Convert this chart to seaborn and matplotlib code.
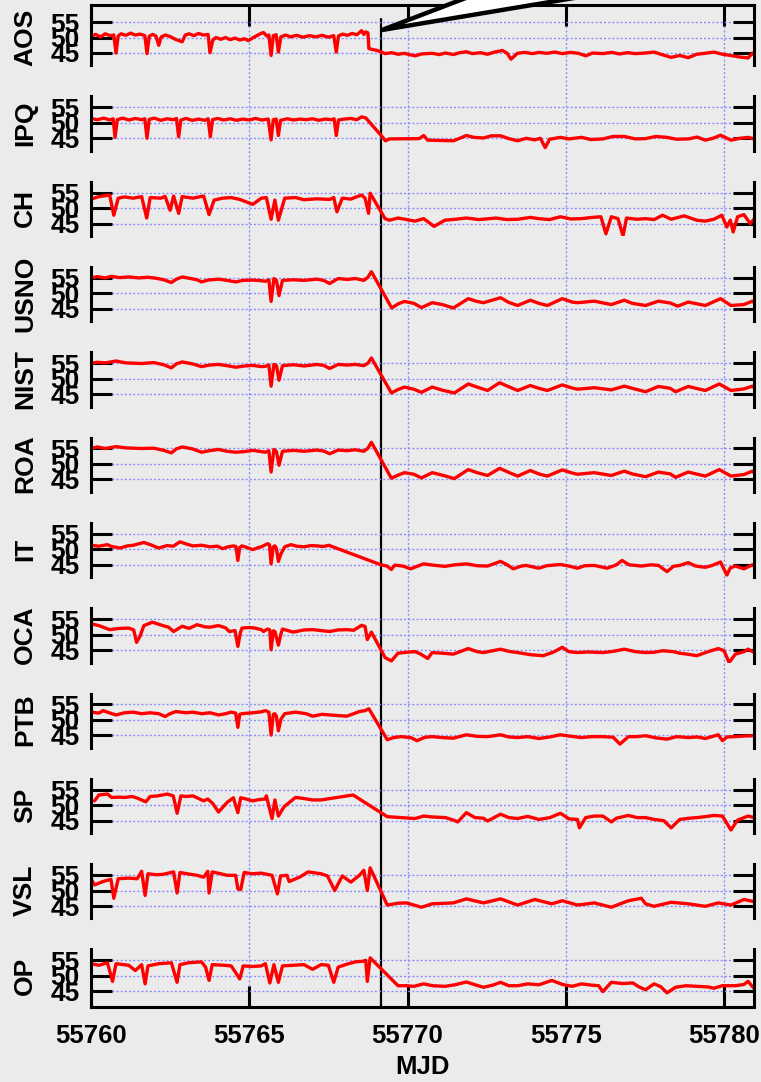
import numpy as np
import pandas as pd
import seaborn as sns
import matplotlib.pyplot as plt
from matplotlib.patches import Polygon

# times are days after MJD 55760
MJD0 = 55760
step_mjd = 55769.16

stations = ['AOS', 'IPQ', 'CH', 'USNO', 'NIST', 'ROA', 'IT', 'OCA', 'PTB', 'SP', 'VSL', 'OP']
tick_mjd = [55760, 55765, 55770, 55775, 55780]
y_ticks = [45, 50, 55]

t_aos = [0.0, 0.15, 0.3, 0.45, 0.6, 0.72, 0.79, 0.86, 0.95, 1.1, 1.25, 1.4, 1.55, 1.7, 1.77, 1.84, 1.95, 2.05, 2.14, 2.22,
         2.35, 2.5, 2.65, 2.88, 2.98, 3.1, 3.25, 3.4, 3.55, 3.7, 3.76, 3.85, 3.95, 4.1, 4.25, 4.4, 4.55, 4.7, 4.85, 4.97,
         5.1, 5.24, 5.35, 5.45, 5.55, 5.62, 5.69, 5.76, 5.85, 5.92, 6.0, 6.15, 6.3, 6.5, 6.7, 6.9, 7.1, 7.3, 7.5, 7.67,
         7.75, 7.82, 7.95, 8.1, 8.25, 8.4, 8.55, 8.62, 8.68, 8.75, 8.78, 9.05, 9.29, 9.5, 9.7, 9.9, 10.1, 10.24, 10.45, 10.78,
         11.0, 11.2, 11.45, 11.65, 11.86, 12.05, 12.3, 12.53, 12.75, 13.0, 13.15, 13.27, 13.47, 13.7, 13.95, 14.15, 14.4, 14.65, 14.9, 15.15,
         15.4, 15.63, 15.85, 16.17, 16.45, 16.7, 16.95, 17.2, 17.52, 17.79, 18.0, 18.33, 18.6, 18.87, 19.14, 19.4, 19.68, 19.95, 20.22, 20.5,
         20.76, 20.9, 20.95]
v_aos = [50.4, 51.0, 50.2, 51.2, 50.6, 50.8, 45.0, 50.5, 51.2, 50.7, 51.4, 50.8, 51.1, 50.6, 44.8, 50.4, 51.0, 50.5, 47.5, 50.2,
         50.8, 50.3, 49.5, 48.6, 50.8, 51.2, 50.6, 51.3, 50.8, 51.0, 45.1, 49.2, 50.0, 49.4, 50.0, 49.3, 49.8, 49.2, 49.6, 49.0,
         49.8, 50.6, 51.2, 51.6, 50.5, 50.8, 44.2, 50.6, 50.9, 45.3, 50.2, 50.8, 50.2, 50.7, 50.1, 50.6, 50.2, 50.7, 50.1, 50.6,
         45.3, 50.5, 51.1, 50.7, 51.3, 50.9, 52.2, 51.0, 51.8, 51.5, 46.4, 45.8, 44.8, 45.1, 44.6, 44.9, 44.4, 44.1, 44.7, 44.9,
         44.5, 45.0, 44.5, 45.1, 45.4, 44.8, 45.1, 44.6, 45.3, 45.8, 44.9, 43.0, 44.9, 45.2, 44.8, 45.2, 44.9, 45.3, 44.8, 45.2,
         44.9, 44.1, 45.0, 44.8, 45.2, 44.7, 45.1, 44.8, 45.0, 45.3, 44.6, 43.6, 44.2, 43.5, 44.6, 44.9, 45.3, 44.6, 44.2, 43.7,
         43.4, 45.0, 44.5]

t_ipq = [0.0, 0.2, 0.4, 0.6, 0.7, 0.76, 0.83, 1.0, 1.2, 1.4, 1.6, 1.7, 1.77, 1.84, 2.0, 2.2, 2.4, 2.6, 2.7, 2.77,
         2.84, 3.0, 3.2, 3.4, 3.6, 3.7, 3.77, 3.84, 4.0, 4.2, 4.4, 4.6, 4.8, 5.0, 5.2, 5.4, 5.6, 5.69, 5.76, 5.85,
         5.92, 5.99, 6.2, 6.4, 6.6, 6.8, 7.0, 7.2, 7.4, 7.6, 7.68, 7.75, 7.82, 8.0, 8.2, 8.4, 8.55, 8.68, 9.22, 9.3,
         9.43, 10.37, 10.51, 10.64, 11.45, 11.65, 11.86, 12.1, 12.4, 12.65, 12.94, 13.2, 13.48, 13.75, 14.02, 14.2, 14.35, 14.49, 14.83, 15.1,
         15.5, 15.8, 16.17, 16.5, 16.85, 17.2, 17.52, 17.85, 18.2, 18.5, 18.87, 19.15, 19.41, 19.65, 19.89, 20.22, 20.5, 20.76, 20.95]
v_ipq = [51.4, 51.0, 51.5, 50.9, 51.3, 45.3, 51.0, 51.5, 50.9, 51.4, 51.0, 51.3, 45.0, 51.1, 51.5, 50.8, 51.3, 51.0, 51.4, 45.5,
         50.9, 51.4, 50.8, 51.2, 50.8, 51.3, 45.5, 51.0, 51.4, 50.9, 51.3, 50.8, 51.2, 50.9, 51.4, 50.9, 51.2, 44.5, 51.0, 51.2,
         45.9, 50.8, 51.3, 50.9, 51.2, 51.0, 51.3, 50.8, 51.2, 51.0, 51.3, 45.9, 50.9, 51.2, 51.4, 51.0, 51.9, 51.6, 45.3, 44.2,
         44.8, 44.9, 45.9, 44.4, 44.2, 45.0, 45.9, 45.3, 45.1, 45.8, 45.8, 44.9, 44.2, 45.0, 44.5, 45.0, 42.0, 44.7, 45.3, 44.8,
         45.3, 44.6, 44.8, 45.6, 45.6, 44.8, 44.9, 45.6, 45.3, 44.7, 44.8, 45.4, 44.4, 45.0, 46.0, 44.4, 45.0, 45.3, 44.8]

t_ch = [0.0, 0.25, 0.59, 0.72, 0.86, 1.06, 1.33, 1.6, 1.76, 1.87, 2.21, 2.34, 2.5, 2.61, 2.77, 2.88, 3.22, 3.56, 3.73, 3.89,
        4.16, 4.43, 4.7, 5.11, 5.38, 5.54, 5.69, 5.81, 5.92, 6.12, 6.46, 6.73, 7.13, 7.54, 7.67, 7.77, 7.94, 8.21, 8.35, 8.55,
        8.66, 8.77, 8.82, 9.29, 9.43, 9.7, 9.97, 10.24, 10.51, 10.84, 11.18, 11.52, 11.86, 12.26, 12.8, 13.14, 13.48, 13.88, 14.15, 14.49,
        14.83, 15.16, 15.5, 15.84, 16.11, 16.27, 16.44, 16.65, 16.81, 16.92, 17.25, 17.52, 17.79, 18.06, 18.33, 18.74, 19.14, 19.41, 19.68, 19.93,
        20.09, 20.2, 20.29, 20.43, 20.63, 20.83, 20.96]
v_ch = [52.9, 53.7, 54.2, 47.7, 53.2, 53.6, 53.2, 53.7, 46.8, 53.4, 53.2, 53.8, 49.3, 53.9, 48.3, 53.7, 53.2, 53.9, 47.9, 52.6,
        53.2, 53.4, 52.8, 51.2, 53.2, 53.4, 46.4, 52.6, 46.1, 53.2, 53.4, 52.7, 53.0, 52.8, 53.4, 48.8, 53.2, 52.9, 53.5, 54.2,
        53.2, 48.3, 54.8, 46.6, 46.1, 46.8, 46.3, 45.8, 46.6, 44.1, 46.1, 46.4, 46.8, 46.3, 46.8, 46.3, 46.4, 47.0, 46.6, 46.3,
        47.2, 46.5, 46.6, 47.0, 47.2, 41.7, 47.2, 46.6, 41.0, 46.8, 46.4, 46.6, 46.3, 47.7, 46.4, 47.5, 46.1, 45.8, 46.4, 47.7,
        43.9, 46.1, 42.3, 47.2, 47.9, 45.0, 46.6]

t_usno = [0.0, 0.2, 0.45, 0.65, 0.9, 1.2, 1.5, 1.8, 2.05, 2.3, 2.54, 2.7, 2.88, 3.1, 3.35, 3.49, 3.7, 4.03, 4.3, 4.57,
          4.8, 5.11, 5.38, 5.51, 5.62, 5.69, 5.78, 5.86, 5.94, 6.05, 6.4, 6.73, 7.13, 7.35, 7.54, 7.81, 8.1, 8.35, 8.62, 8.75,
          8.86, 9.5, 9.7, 9.9, 10.2, 10.44, 10.78, 11.1, 11.45, 11.92, 12.2, 12.4, 12.94, 13.2, 13.48, 13.88, 14.15, 14.42, 14.89, 15.2,
          15.37, 15.9, 16.44, 16.85, 17.1, 17.52, 17.93, 18.3, 18.54, 18.87, 19.41, 19.89, 20.22, 20.63, 20.9, 20.96]
v_usno = [55.0, 55.4, 55.0, 55.5, 55.1, 55.3, 55.0, 55.2, 54.9, 54.4, 53.5, 54.6, 55.3, 54.9, 54.4, 53.7, 54.3, 54.6, 54.2, 53.7,
          54.2, 54.3, 54.1, 53.9, 54.4, 47.4, 54.8, 54.2, 49.3, 54.2, 54.4, 54.2, 54.6, 54.2, 53.2, 54.8, 54.5, 54.8, 54.2, 55.2,
          57.0, 45.3, 46.6, 47.4, 46.8, 45.4, 47.0, 46.4, 45.3, 48.3, 47.4, 47.0, 48.6, 47.1, 46.1, 47.8, 46.8, 46.1, 48.3, 47.2,
          47.0, 47.5, 46.4, 47.8, 46.8, 46.1, 47.5, 46.9, 45.9, 47.2, 46.1, 48.3, 46.1, 46.4, 47.5, 47.0]

t_nist = [0.0, 0.2, 0.45, 0.79, 1.1, 1.6, 1.98, 2.3, 2.54, 2.7, 2.88, 3.2, 3.49, 3.75, 4.03, 4.3, 4.57, 4.85, 5.11, 5.38,
          5.51, 5.62, 5.69, 5.78, 5.86, 5.94, 6.05, 6.4, 6.73, 7.13, 7.35, 7.54, 7.81, 8.1, 8.35, 8.62, 8.75, 8.86, 9.49, 9.7,
          9.9, 10.2, 10.44, 10.78, 11.1, 11.48, 11.92, 12.2, 12.53, 12.91, 13.2, 13.48, 13.88, 14.15, 14.42, 14.89, 15.2, 15.37, 15.9, 16.44,
          16.85, 17.1, 17.52, 17.93, 18.3, 18.47, 18.87, 19.41, 19.85, 20.22, 20.63, 20.9, 20.96]
v_nist = [55.0, 55.3, 55.1, 55.7, 55.1, 54.9, 55.2, 54.5, 53.5, 54.8, 55.4, 54.8, 53.9, 54.4, 54.6, 54.2, 53.7, 54.1, 54.3, 53.9,
          54.0, 54.4, 47.6, 54.6, 54.2, 49.5, 54.2, 54.5, 54.1, 54.6, 54.3, 53.3, 54.6, 54.4, 54.6, 54.2, 55.0, 56.7, 45.4, 46.5,
          47.3, 46.6, 45.6, 47.3, 46.3, 45.4, 48.3, 47.3, 46.2, 48.7, 47.4, 46.2, 47.8, 46.9, 46.2, 48.0, 47.0, 46.6, 47.1, 46.4,
          47.6, 46.9, 45.8, 47.5, 46.9, 45.8, 47.5, 46.2, 48.3, 46.2, 46.7, 47.6, 47.0]

t_roa = list(t_nist)
v_roa = [55.0, 55.5, 55.0, 55.6, 55.2, 55.0, 55.1, 54.4, 53.6, 54.9, 55.5, 54.9, 53.8, 54.3, 54.7, 54.1, 53.8, 54.0, 54.4, 54.0,
         53.8, 54.3, 47.4, 54.7, 54.0, 49.6, 54.1, 54.4, 54.1, 54.5, 54.2, 53.3, 54.5, 54.3, 54.6, 54.1, 55.1, 57.0, 45.4, 46.4,
         47.2, 46.7, 45.5, 47.2, 46.4, 45.3, 48.2, 47.2, 46.3, 48.6, 47.3, 46.1, 47.9, 46.8, 46.1, 48.1, 47.1, 46.7, 47.2, 46.3,
         47.7, 46.8, 45.9, 47.4, 46.8, 45.7, 47.4, 46.1, 48.2, 46.1, 46.6, 47.7, 47.1]

t_it = [0.0, 0.25, 0.52, 0.65, 0.92, 1.15, 1.33, 1.67, 1.9, 2.14, 2.4, 2.6, 2.81, 3.05, 3.22, 3.5, 3.76, 4.0, 4.16, 4.3,
        4.5, 4.58, 4.64, 4.7, 4.77, 4.95, 5.11, 5.3, 5.38, 5.58, 5.64, 5.69, 5.76, 5.81, 5.86, 5.92, 6.0, 6.12, 6.32, 6.5,
        6.73, 6.95, 7.13, 7.35, 7.51, 9.16, 9.35, 9.49, 9.6, 9.85, 10.1, 10.3, 10.51, 10.8, 11.18, 11.5, 11.86, 12.2, 12.53, 12.94,
        13.15, 13.34, 13.6, 13.75, 14.15, 14.4, 14.83, 15.1, 15.37, 15.6, 15.9, 16.31, 16.6, 16.78, 17.0, 17.39, 17.7, 17.93, 18.2, 18.4,
        18.6, 18.87, 19.1, 19.41, 19.6, 19.89, 20.09, 20.2, 20.36, 20.63, 20.9, 20.96]
v_it = [51.3, 51.0, 51.5, 50.9, 50.4, 51.1, 51.3, 52.2, 51.4, 50.4, 51.2, 51.0, 52.4, 51.6, 51.1, 51.3, 50.8, 51.0, 50.2, 50.7,
        51.1, 50.9, 46.4, 50.6, 51.1, 50.5, 49.9, 50.6, 50.8, 51.8, 51.5, 45.3, 50.8, 51.1, 50.2, 46.1, 48.5, 50.8, 51.5, 51.0,
        50.8, 51.2, 51.1, 50.9, 51.3, 45.0, 44.6, 43.5, 44.9, 44.6, 43.7, 44.5, 45.3, 44.9, 44.5, 45.0, 45.3, 44.7, 44.6, 46.1,
        45.0, 43.7, 44.6, 44.8, 43.9, 44.7, 45.1, 44.6, 43.9, 44.7, 44.8, 43.9, 45.0, 46.4, 45.0, 44.6, 45.0, 44.8, 42.8, 44.5,
        44.8, 45.7, 44.6, 44.2, 44.7, 45.9, 41.7, 44.0, 44.6, 43.7, 45.0, 44.6]

t_oca = [0.0, 0.25, 0.59, 0.9, 1.19, 1.35, 1.44, 1.55, 1.67, 1.94, 2.27, 2.45, 2.61, 2.88, 3.1, 3.35, 3.6, 3.76, 4.03, 4.25,
         4.37, 4.55, 4.64, 4.72, 4.77, 5.0, 5.18, 5.38, 5.45, 5.58, 5.65, 5.69, 5.76, 5.81, 5.92, 6.0, 6.05, 6.39, 6.73, 7.0,
         7.27, 7.54, 7.8, 8.08, 8.3, 8.55, 8.66, 8.73, 8.86, 9.29, 9.49, 9.7, 9.97, 10.24, 10.4, 10.64, 10.78, 11.1, 11.45, 11.92,
         12.2, 12.4, 12.94, 13.2, 13.48, 13.9, 14.29, 14.6, 14.89, 15.1, 15.37, 15.7, 16.17, 16.5, 16.85, 17.2, 17.52, 17.8, 18.06, 18.4,
         18.6, 18.9, 19.14, 19.5, 19.82, 20.0, 20.16, 20.36, 20.63, 20.76, 20.96]
v_oca = [53.5, 52.9, 51.6, 52.0, 52.1, 51.5, 47.5, 49.5, 52.9, 54.0, 52.9, 52.4, 51.0, 52.7, 52.0, 53.2, 52.5, 52.4, 52.9, 52.2,
         51.0, 51.3, 46.2, 50.6, 52.1, 52.3, 52.1, 51.6, 51.0, 51.8, 51.5, 45.1, 51.2, 51.0, 46.6, 50.2, 51.8, 50.8, 51.5, 51.6,
         51.3, 51.0, 51.5, 51.6, 51.4, 53.0, 52.6, 48.4, 50.8, 42.6, 41.5, 44.0, 44.3, 44.5, 43.8, 42.3, 44.2, 44.0, 43.7, 45.5,
         44.5, 44.2, 45.3, 44.6, 44.2, 43.5, 43.2, 44.3, 45.9, 44.5, 44.2, 44.4, 44.2, 44.6, 45.3, 44.5, 44.2, 44.3, 44.8, 44.5,
         44.0, 43.6, 43.2, 44.5, 45.5, 44.8, 41.0, 43.7, 44.5, 45.3, 44.2]

t_ptb = [0.0, 0.25, 0.38, 0.6, 0.79, 1.06, 1.33, 1.6, 1.87, 2.14, 2.34, 2.5, 2.68, 3.0, 3.22, 3.5, 3.76, 4.03, 4.25, 4.43,
         4.57, 4.64, 4.7, 4.77, 5.11, 5.38, 5.51, 5.62, 5.69, 5.76, 5.81, 5.86, 5.92, 6.0, 6.12, 6.46, 6.8, 7.0, 7.3, 7.54,
         7.8, 8.08, 8.3, 8.48, 8.66, 8.78, 9.36, 9.56, 9.8, 10.1, 10.3, 10.55, 10.78, 11.1, 11.45, 11.86, 12.2, 12.53, 12.94, 13.2,
         13.48, 13.8, 14.15, 14.5, 14.83, 15.1, 15.5, 15.8, 16.17, 16.5, 16.71, 16.98, 17.25, 17.52, 17.85, 18.2, 18.5, 18.87, 19.15, 19.41,
         19.82, 19.95, 20.1, 20.36, 20.63, 20.96]
v_ptb = [52.5, 52.2, 53.0, 52.2, 51.6, 52.3, 52.5, 52.0, 52.3, 52.0, 51.1, 52.0, 52.7, 52.3, 52.5, 52.0, 52.3, 51.6, 52.0, 52.5,
         52.2, 47.6, 51.8, 52.0, 52.3, 52.6, 53.0, 52.5, 45.1, 51.8, 52.0, 51.2, 46.5, 50.2, 52.0, 52.5, 52.0, 51.2, 51.8, 51.6,
         51.4, 51.2, 52.0, 52.7, 53.0, 53.6, 43.6, 44.3, 44.6, 44.3, 43.3, 44.4, 44.6, 44.3, 44.1, 45.2, 44.7, 44.6, 45.2, 44.5,
         44.3, 44.6, 44.0, 44.5, 45.2, 44.8, 44.3, 44.6, 44.6, 44.4, 42.2, 44.6, 44.6, 44.9, 44.2, 43.8, 44.6, 44.3, 44.5, 44.0,
         45.2, 43.3, 44.5, 44.6, 44.8, 44.9]

t_sp = [0.11, 0.25, 0.52, 0.65, 0.9, 1.06, 1.3, 1.46, 1.73, 1.87, 2.1, 2.41, 2.6, 2.72, 2.84, 3.0, 3.22, 3.56, 3.69, 3.85,
        4.03, 4.3, 4.5, 4.64, 4.73, 4.9, 5.11, 5.3, 5.51, 5.54, 5.72, 5.81, 5.92, 6.1, 6.46, 6.7, 7.0, 7.27, 8.28, 9.16,
        9.36, 10.24, 10.51, 10.78, 11.2, 11.45, 11.59, 11.86, 12.13, 12.4, 12.53, 12.94, 13.2, 13.48, 13.8, 14.15, 14.5, 14.83, 15.1, 15.37,
        15.43, 15.63, 15.9, 16.17, 16.44, 16.6, 16.98, 17.25, 17.52, 17.8, 18.1, 18.33, 18.6, 18.9, 19.14, 19.41, 19.68, 19.95, 20.22, 20.43,
        20.76, 20.96]
v_sp = [51.4, 53.3, 53.6, 52.5, 52.6, 52.5, 52.8, 52.3, 51.1, 52.8, 53.0, 53.6, 53.0, 47.4, 53.0, 52.8, 53.0, 51.4, 52.0, 50.5,
        47.8, 50.9, 52.4, 47.6, 52.4, 52.0, 51.4, 51.8, 52.0, 53.0, 45.7, 51.7, 46.5, 49.5, 52.5, 52.2, 51.7, 51.7, 53.3, 47.6,
        46.3, 45.7, 46.5, 46.2, 46.0, 45.2, 44.6, 47.6, 46.0, 45.8, 44.9, 47.1, 46.0, 45.7, 46.4, 45.4, 46.0, 47.4, 45.6, 45.4,
        42.7, 46.0, 46.5, 46.5, 44.6, 45.8, 46.7, 46.0, 46.0, 45.4, 45.0, 42.7, 45.4, 45.8, 46.0, 46.3, 46.7, 46.5, 42.0, 45.2,
        46.5, 46.0]

t_vsl = [0.0, 0.11, 0.38, 0.63, 0.72, 0.86, 1.19, 1.46, 1.6, 1.71, 1.8, 2.05, 2.27, 2.61, 2.72, 2.81, 3.1, 3.35, 3.56, 3.69,
         3.73, 3.83, 4.1, 4.3, 4.57, 4.64, 4.73, 4.84, 5.1, 5.38, 5.72, 5.89, 5.99, 6.19, 6.26, 6.59, 6.86, 7.27, 7.47, 7.7,
         7.94, 8.21, 8.48, 8.62, 8.73, 8.82, 9.36, 9.7, 9.97, 10.44, 10.78, 11.45, 11.86, 12.4, 12.94, 13.48, 14.02, 14.56, 14.89, 15.37,
         15.9, 16.44, 16.98, 17.39, 17.52, 17.79, 18.33, 18.87, 19.41, 19.82, 20.22, 20.63, 20.96]
v_vsl = [53.8, 51.8, 52.9, 53.6, 47.5, 53.8, 54.0, 53.8, 56.2, 48.4, 55.4, 55.1, 55.2, 56.0, 49.2, 55.8, 55.3, 54.9, 54.3, 56.2,
         49.2, 56.0, 55.4, 54.9, 54.9, 50.5, 50.3, 55.8, 55.4, 55.6, 54.9, 48.9, 54.7, 54.9, 52.9, 54.3, 56.0, 55.4, 54.7, 50.0,
         54.7, 52.7, 54.9, 56.5, 50.0, 57.3, 45.3, 45.9, 46.0, 44.6, 45.7, 46.0, 47.3, 46.0, 47.3, 45.3, 47.1, 45.7, 46.7, 45.3,
         46.0, 44.6, 46.7, 47.5, 45.7, 44.9, 46.2, 45.7, 44.9, 46.0, 45.3, 47.1, 46.4]

t_op = [0.0, 0.25, 0.52, 0.68, 0.79, 1.19, 1.4, 1.6, 1.71, 1.8, 2.14, 2.54, 2.72, 2.81, 3.08, 3.49, 3.62, 3.73, 3.83, 4.2,
        4.43, 4.7, 4.81, 5.1, 5.38, 5.51, 5.65, 5.78, 5.92, 6.05, 6.4, 6.73, 7.0, 7.27, 7.5, 7.67, 7.81, 8.1, 8.35, 8.6,
        8.68, 8.73, 8.82, 9.7, 9.97, 10.2, 10.51, 10.8, 11.18, 11.5, 11.86, 12.2, 12.4, 12.7, 12.94, 13.2, 13.48, 13.8, 14.15, 14.56,
        14.9, 15.2, 15.5, 15.8, 16.04, 16.17, 16.44, 16.8, 17.12, 17.3, 17.52, 17.79, 18.0, 18.2, 18.47, 18.8, 19.14, 19.5, 19.68, 19.95,
        20.36, 20.63, 20.76, 20.96]
v_op = [53.9, 53.4, 54.2, 48.2, 53.9, 53.4, 51.7, 53.6, 47.4, 53.2, 53.9, 54.2, 47.9, 53.6, 54.2, 54.5, 52.8, 48.5, 53.6, 53.4,
        53.2, 49.0, 53.2, 53.0, 53.2, 53.9, 47.7, 53.6, 47.9, 53.2, 53.4, 53.6, 52.1, 53.6, 53.4, 47.9, 52.8, 53.8, 54.5, 54.7,
        55.0, 48.2, 55.8, 46.8, 46.8, 46.6, 47.4, 46.8, 46.6, 47.1, 48.0, 46.9, 46.3, 47.0, 47.9, 46.8, 46.8, 47.4, 47.1, 48.5,
        47.2, 46.6, 47.4, 47.0, 46.8, 44.9, 47.9, 47.5, 47.7, 46.5, 45.5, 47.4, 46.5, 44.5, 46.3, 46.8, 46.6, 46.4, 46.0, 46.8,
        46.8, 47.2, 48.2, 45.8]

series = {
    'AOS': (t_aos, v_aos), 'IPQ': (t_ipq, v_ipq), 'CH': (t_ch, v_ch), 'USNO': (t_usno, v_usno),
    'NIST': (t_nist, v_nist), 'ROA': (t_roa, v_roa), 'IT': (t_it, v_it), 'OCA': (t_oca, v_oca),
    'PTB': (t_ptb, v_ptb), 'SP': (t_sp, v_sp), 'VSL': (t_vsl, v_vsl), 'OP': (t_op, v_op),
}

# --- style ---
BG = '#ebebeb'
GRID = '#8c8cff'
sns.set_theme(style='ticks')
plt.rcParams['font.family'] = ['Liberation Sans', 'DejaVu Sans']
plt.rcParams['font.weight'] = 'bold'
plt.rcParams['axes.labelweight'] = 'bold'
plt.rcParams['text.color'] = 'black'
plt.rcParams['axes.labelcolor'] = 'black'
plt.rcParams['xtick.color'] = 'black'
plt.rcParams['ytick.color'] = 'black'

W, H = 761, 1082
fig = plt.figure(figsize=(W / 100, H / 100), dpi=100, facecolor=BG)

x_left, x_right = 91, 754
xmax = MJD0 + (x_right - x_left) / 31.65
px_unit = 3.1      # pixels per ns on y
row_step = 85.3    # pixels between panels


def fig_box(top_px, bot_px):
    return [x_left / W, 1 - bot_px / H, (x_right - x_left) / W, (bot_px - top_px) / H]


# background axes: vertical grid and the step marker spanning all panels
bg = fig.add_axes(fig_box(5, 1007), zorder=0)
bg.set_facecolor(BG)
bg.set_xlim(MJD0, xmax)
bg.set_ylim(0, 1)
for m in tick_mjd[1:]:
    bg.axvline(m, color=GRID, lw=1, ls=(0, (1.5, 1.5)))
bg.axvline(step_mjd, ymin=0, ymax=(1007 - 19) / 1002, color='black', lw=1.6)
bg.axis('off')

for k, name in enumerate(stations):
    lo, hi = 41.0, 58.5
    if k == 0:
        hi = 60.5
    if k == len(stations) - 1:
        lo = 39.8
    y55 = 22 + row_step * k
    top_px = y55 - (hi - 55) * px_unit
    bot_px = y55 + (55 - lo) * px_unit
    ax = fig.add_axes(fig_box(top_px, bot_px), zorder=1)
    ax.patch.set_alpha(0)

    t, v = series[name]
    df = pd.DataFrame({'MJD': MJD0 + np.array(t), 'val': v})
    sns.lineplot(data=df, x='MJD', y='val', ax=ax, color='red', lw=2.4,
                 estimator=None, sort=False)

    ax.set_xlim(MJD0, xmax)
    ax.set_ylim(lo, hi)
    ax.set_yticks(y_ticks)
    ax.set_yticklabels([str(y) for y in y_ticks])
    ax.yaxis.grid(True, color=GRID, lw=1, ls=(0, (1.5, 1.5)))
    ax.set_axisbelow(True)
    ax.tick_params(axis='y', left=True, right=True, direction='in', length=15, width=2.2,
                   labelsize=19, pad=8, colors='black')
    for s in ['left', 'right']:
        ax.spines[s].set_linewidth(2.2)
        ax.spines[s].set_color('black')
    ax.spines['top'].set_visible(k == 0)
    ax.spines['bottom'].set_visible(k == len(stations) - 1)
    ax.spines['top'].set_linewidth(2.2)
    ax.spines['bottom'].set_linewidth(2.2)
    ax.spines['top'].set_color('black')
    ax.spines['bottom'].set_color('black')

    ax.set_xticks(tick_mjd)
    if k == 0:
        ax.tick_params(axis='x', top=True, bottom=False, labelbottom=False, direction='in',
                       length=15, width=2.2, colors='black')
    elif k == len(stations) - 1:
        ax.tick_params(axis='x', top=False, bottom=True, direction='in', length=15, width=2.2,
                       labelsize=18.5, pad=12, colors='black')
        ax.set_xticklabels([str(m) for m in tick_mjd])
    else:
        ax.tick_params(axis='x', top=False, bottom=False, labelbottom=False)

    if k == len(stations) - 1:
        ax.set_xlabel('MJD', fontsize=18.5, fontweight='bold', labelpad=5, color='black')
    else:
        ax.set_xlabel('')
    ax.set_ylabel(name, fontsize=19, fontweight='bold', color='black')
    ax.yaxis.set_label_coords(-0.081, (50 - lo) / (hi - lo))

# pointer wedge at the top of the step line
wedge = Polygon([(382 / W, 1 - 30 / H), (471 / W, 1 + 4 / H), (586 / W, 1 + 4 / H)],
                closed=True, facecolor='white', edgecolor='black', lw=3.2,
                transform=fig.transFigure, clip_on=False, zorder=5)
fig.add_artist(wedge)

fig.savefig('out.png', dpi=100, facecolor=BG)
